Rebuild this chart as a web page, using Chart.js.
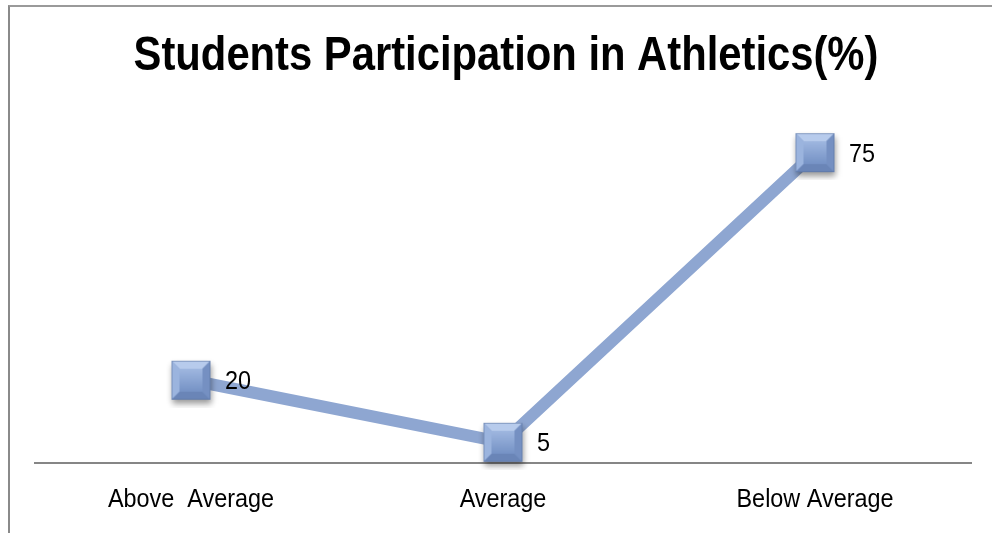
<!DOCTYPE html>
<html>
<head>
<meta charset="utf-8">
<script src="https://cdn.jsdelivr.net/npm/chart.js@4/dist/chart.umd.min.js"></script>
<style>
  html, body { margin: 0; padding: 0; background: #fff; overflow: hidden; }
  #frame { position: absolute; left: 8px; top: 5px; width: 1000px; height: 540px;
           border-top: 2px solid #9a9a9a; border-left: 2px solid #8a8a8a; }
  #chart { position: absolute; left: 0; top: 0; }
</style>
</head>
<body>
<div id="frame"></div>
<canvas id="chart" width="992" height="533"></canvas>
<script>
const chartTitle = 'Students Participation in Athletics(%)';
const categories = ['Above  Average', 'Average', 'Below Average'];
const participation = [20, 5, 75];
const yRange = [0, 80];

const FONT = '"Liberation Sans", Arial, sans-serif';

// text is drawn slightly condensed
function squashedText(ctx, text, x, y, align, squash) {
    ctx.save();
    ctx.translate(x, y);
    ctx.scale(squash, 1);
    ctx.textAlign = align;
    ctx.fillText(text, 0, 0);
    ctx.restore();
}

// beveled square marker with a soft drop shadow
function bevelSquare(size) {
    const pad = 8;
    const c = document.createElement('canvas');
    c.width = c.height = size + pad * 2;
    const g = c.getContext('2d');
    const x0 = pad, y0 = pad, x1 = pad + size, y1 = pad + size;
    const b = 8;

    g.shadowColor = 'rgba(0,0,0,0.4)';
    g.shadowBlur = 6;
    g.shadowOffsetX = 1;
    g.shadowOffsetY = 4;
    g.fillStyle = '#7f9bcb';
    g.fillRect(x0, y0, size, size);
    g.shadowColor = 'transparent';

    const face = (pts, fill) => {
        g.beginPath();
        g.moveTo(pts[0][0], pts[0][1]);
        pts.slice(1).forEach(p => g.lineTo(p[0], p[1]));
        g.closePath();
        g.fillStyle = fill;
        g.fill();
    };
    face([[x0, y0], [x1, y0], [x1 - b, y0 + b], [x0 + b, y0 + b]], '#b7cbec');
    face([[x0, y0], [x0 + b, y0 + b], [x0 + b, y1 - b], [x0, y1]], '#9bb4de');
    face([[x1, y0], [x1, y1], [x1 - b, y1 - b], [x1 - b, y0 + b]], '#7590c2');
    face([[x0, y1], [x0 + b, y1 - b], [x1 - b, y1 - b], [x1, y1]], '#6a85b7');

    const grad = g.createLinearGradient(0, y0 + b, 0, y1 - b);
    grad.addColorStop(0, '#9fb7e0');
    grad.addColorStop(1, '#7592c5');
    g.fillStyle = grad;
    g.fillRect(x0 + b, y0 + b, size - 2 * b, size - 2 * b);

    g.strokeStyle = 'rgba(90,115,160,0.55)';
    g.lineWidth = 1;
    g.strokeRect(x0 + 0.5, y0 + 0.5, size - 1, size - 1);
    return c;
}

const marker = bevelSquare(39);

// title, category names and point values
const chartText = {
    id: 'chartText',
    afterDatasetsDraw(chart) {
        const ctx = chart.ctx;
        const meta = chart.getDatasetMeta(0);
        const xScale = chart.scales.x;
        ctx.save();
        ctx.fillStyle = '#000';
        ctx.textBaseline = 'alphabetic';

        ctx.font = 'bold 48px ' + FONT;
        squashedText(ctx, chartTitle, 506, 70, 'center', 0.87);

        ctx.font = '26px ' + FONT;
        categories.forEach((c, i) => {
            squashedText(ctx, c, xScale.getPixelForValue(i), 507, 'center', 0.9);
        });

        meta.data.forEach((pt, i) => {
            squashedText(ctx, String(participation[i]), pt.x + 34, pt.y + 9, 'left', 0.9);
        });
        ctx.restore();
    }
};

new Chart(document.getElementById('chart').getContext('2d'), {
    type: 'line',
    data: {
        labels: categories,
        datasets: [{
            data: participation,
            borderColor: '#8ea6d1',
            borderWidth: 12,
            pointStyle: marker,
            pointRadius: 20,
            tension: 0,
            clip: false
        }]
    },
    options: {
        responsive: false,
        animation: false,
        layout: { autoPadding: false, padding: { left: 35, right: 21, top: 132, bottom: 70 } },
        plugins: {
            legend: { display: false },
            tooltip: { enabled: false },
            title: { display: false }
        },
        scales: {
            x: {
                offset: true,
                grid: { display: false, drawTicks: false },
                border: { display: true, color: '#868686', width: 2 },
                ticks: { display: false }
            },
            y: {
                display: false,
                min: yRange[0],
                max: yRange[1]
            }
        }
    },
    plugins: [chartText]
});
</script>
</body>
</html>
